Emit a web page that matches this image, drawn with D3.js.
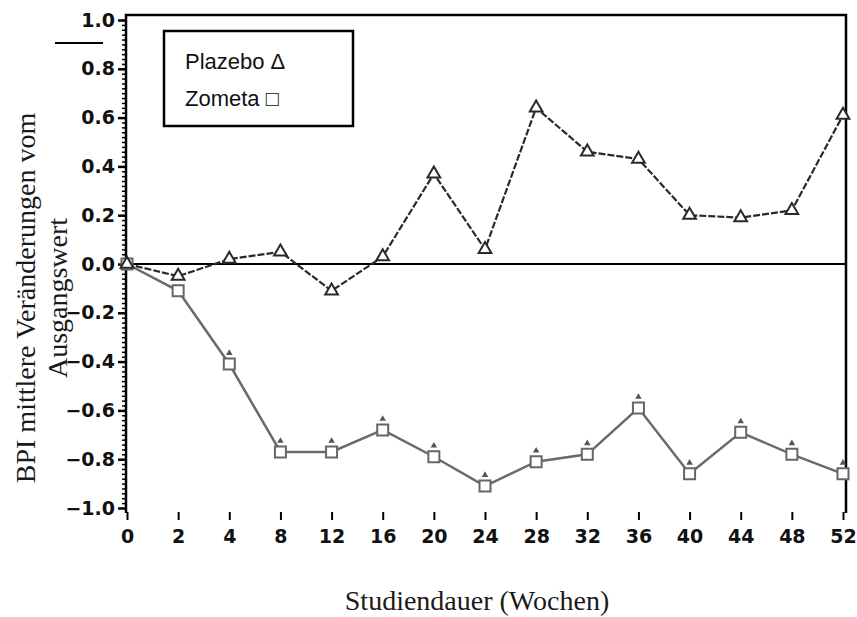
<!DOCTYPE html>
<html lang="de">
<head>
    <meta charset="UTF-8">
    <title>BPI mittlere Veränderungen</title>
    <script src="https://d3js.org/d3.v7.min.js"></script>
    <style>
        body { margin: 0; background: #fff; }
        svg { display: block; }
        .tick text {
            font-family: "DejaVu Sans", sans-serif;
            font-weight: bold;
            font-size: 19px;
            fill: #111;
        }
        .axis-title {
            font-family: "Liberation Serif", serif;
            font-size: 28px;
            fill: #1a1a1a;
        }
        .legend text {
            font-family: "Liberation Sans", sans-serif;
            font-size: 22px;
            fill: #111;
        }
    </style>
</head>
<body>
<script>
    const width = 857;
    const height = 617;

    // data
    const weeks = [0, 2, 4, 8, 12, 16, 20, 24, 28, 32, 36, 40, 44, 48, 52];
    const plazebo = [0.00, -0.05, 0.02, 0.05, -0.11, 0.03, 0.37, 0.06, 0.64, 0.46, 0.43, 0.20, 0.19, 0.22, 0.61];
    const zometa = [0.00, -0.11, -0.41, -0.77, -0.77, -0.68, -0.79, -0.91, -0.81, -0.78, -0.59, -0.86, -0.69, -0.78, -0.86];
    const markedWeeks = [4, 8, 12, 16, 20, 24, 28, 32, 36, 40, 44, 48, 52];
    const yTicks = [-1.0, -0.8, -0.6, -0.4, -0.2, 0.0, 0.2, 0.4, 0.6, 0.8, 1.0];
    const yMinor = d3.range(-50, 51).map(d => d / 50);

    const plotL = 126, plotR = 846, plotT = 15, plotB = 513;

    let svg = d3.select("body")
        .append("svg")
        .attr("width", width)
        .attr("height", height)
        .attr("viewBox", `0 0 ${width} ${height}`);

    const x = d3.scalePoint().domain(weeks).range([127, 843]);
    const y = d3.scaleLinear().domain([-1, 1]).range([508, 20]);

    // frame: left axis line, top and right
    svg.append("path")
       .attr("d", `M${plotL},${plotB} L${plotL},${plotT} L${plotR},${plotT} L${plotR},${plotB}`)
       .attr("fill", "none")
       .attr("stroke", "#000")
       .attr("stroke-width", 2.5);

    // minor y ticks
    svg.append("g")
       .attr("transform", `translate(${plotL},0)`)
       .call(d3.axisLeft(y).tickValues(yMinor).tickSize(4).tickFormat(""))
       .call(g => g.select(".domain").remove())
       .call(g => g.selectAll("line").attr("stroke-width", 1.5));

    // major y ticks
    svg.append("g")
       .attr("transform", `translate(${plotL},0)`)
       .call(d3.axisLeft(y).tickValues(yTicks).tickSize(8).tickPadding(3).tickFormat(d3.format(".1f")))
       .call(g => g.select(".domain").remove())
       .call(g => g.selectAll("line").attr("stroke-width", 2.5));

    // x ticks (no baseline)
    svg.append("g")
       .attr("transform", `translate(0,${plotB - 1})`)
       .call(d3.axisBottom(x).tickSize(8).tickPadding(10))
       .call(g => g.select(".domain").remove())
       .call(g => g.selectAll("line").attr("stroke-width", 2));

    // zero line
    svg.append("line")
       .attr("x1", plotL).attr("x2", plotR)
       .attr("y1", y(0)).attr("y2", y(0))
       .attr("stroke", "#000")
       .attr("stroke-width", 2);

    // short stroke top-left
    svg.append("line")
       .attr("x1", 55).attr("x2", 103)
       .attr("y1", 43).attr("y2", 43)
       .attr("stroke", "#000")
       .attr("stroke-width", 2);

    const line = d3.line()
                   .x((d, i) => x(weeks[i]))
                   .y(d => y(d));

    // Zometa
    svg.append("path")
       .datum(zometa)
       .attr("d", line)
       .attr("fill", "none")
       .attr("stroke", "#6a6a6a")
       .attr("stroke-width", 2.5);

    // Plazebo
    svg.append("path")
       .datum(plazebo)
       .attr("d", line)
       .attr("fill", "none")
       .attr("stroke", "#2a2a2a")
       .attr("stroke-width", 2.2)
       .attr("stroke-dasharray", "7,2");

    svg.selectAll("path.sq")
       .data(zometa)
       .enter()
       .append("path")
       .attr("class", "sq")
       .attr("d", d3.symbol().type(d3.symbolSquare).size(121))
       .attr("transform", (d, i) => `translate(${x(weeks[i])},${y(d)})`)
       .attr("fill", "#fff")
       .attr("stroke", "#666")
       .attr("stroke-width", 2);

    svg.selectAll("path.mark")
       .data(markedWeeks)
       .enter()
       .append("path")
       .attr("class", "mark")
       .attr("d", d3.symbol().type(d3.symbolTriangle).size(18))
       .attr("transform", d => `translate(${x(d)},${y(zometa[weeks.indexOf(d)]) - 11})`)
       .attr("fill", "#555");

    svg.selectAll("path.tri")
       .data(plazebo)
       .enter()
       .append("path")
       .attr("class", "tri")
       .attr("d", d3.symbol().type(d3.symbolTriangle).size(70))
       .attr("transform", (d, i) => `translate(${x(weeks[i])},${y(d)})`)
       .attr("fill", "#fff")
       .attr("stroke", "#2a2a2a")
       .attr("stroke-width", 2);

    // legend
    let legend = svg.append("g").attr("class", "legend");
    legend.append("rect")
          .attr("x", 164).attr("y", 31)
          .attr("width", 189).attr("height", 95)
          .attr("fill", "#fff")
          .attr("stroke", "#000")
          .attr("stroke-width", 2.5);
    legend.append("text").attr("x", 185).attr("y", 69).text("Plazebo Δ");
    legend.append("text").attr("x", 185).attr("y", 106).text("Zometa □");

    // axis titles
    svg.append("text")
       .attr("class", "axis-title")
       .attr("text-anchor", "middle")
       .attr("transform", "translate(35,298) rotate(-90)")
       .text("BPI mittlere Veränderungen vom");
    svg.append("text")
       .attr("class", "axis-title")
       .attr("text-anchor", "middle")
       .attr("transform", "translate(67,298) rotate(-90)")
       .text("Ausgangswert");
    svg.append("text")
       .attr("class", "axis-title")
       .attr("text-anchor", "middle")
       .attr("x", 477).attr("y", 610)
       .text("Studiendauer (Wochen)");
</script>
</body>
</html>
